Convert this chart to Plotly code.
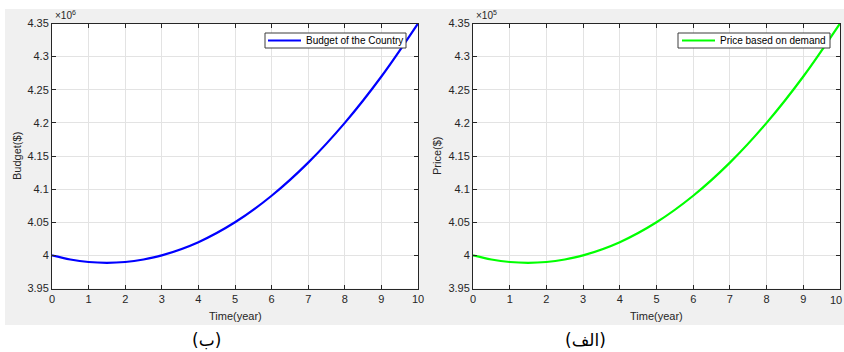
import plotly.graph_objects as go

# ---- data ----
time_year = [0, 0.5, 1, 1.5, 2, 2.5, 3, 4, 5, 6, 7, 8, 9, 10]
budget_x1e6 = [4.000, 3.9938, 3.990, 3.9888, 3.990, 3.9938, 4.000, 4.020, 4.050, 4.090, 4.140, 4.200, 4.270, 4.350]
price_x1e5 = [4.000, 3.9938, 3.990, 3.9888, 3.990, 3.9938, 4.000, 4.020, 4.050, 4.090, 4.140, 4.200, 4.270, 4.350]

x_ticks = list(range(0, 11))
y_ticks = [3.95, 4.0, 4.05, 4.1, 4.15, 4.2, 4.25, 4.3, 4.35]
y_tick_text = ["3.95", "4", "4.05", "4.1", "4.15", "4.2", "4.25", "4.3", "4.35"]

budget_name = "Budget of the Country"
price_name = "Price based on demand"
budget_ylabel = "Budget($)"
price_ylabel = "Price($)"
xlabel = "Time(year)"
budget_exp = "×10<sup>6</sup>"
price_exp = "×10<sup>5</sup>"
caption_left = "(ب)"
caption_right = "(الف)"

BLUE = "#0000ff"
GREEN = "#00ff00"

W, H = 844, 352
def px(x):
    return x / W
def py(y):
    return 1 - y / H

FONT = "Liberation Sans, Arial, sans-serif"
TXT = "#262626"
GRAY = "#f0f0f0"

fig = go.Figure()
fig.add_trace(go.Scatter(x=time_year, y=budget_x1e6, mode="lines", name=budget_name,
                         line=dict(color=BLUE, width=2.2, shape="spline"),
                         xaxis="x", yaxis="y", showlegend=False))
fig.add_trace(go.Scatter(x=time_year, y=price_x1e5, mode="lines", name=price_name,
                         line=dict(color=GREEN, width=2.2, shape="spline"),
                         xaxis="x2", yaxis="y2", showlegend=False))

axis_common = dict(showline=True, linecolor=TXT, linewidth=1, mirror="ticks",
                   ticks="inside", ticklen=4, tickcolor=TXT, showgrid=True,
                   gridcolor="#e3e3e3", gridwidth=1, zeroline=False,
                   automargin=False,
                   tickfont=dict(family=FONT, size=11, color=TXT))

xl = [52, 418]
xr = [473, 840]
ytop, ybot = 23.5, 288.5

fig.update_layout(
    width=W, height=H, margin=dict(l=0, r=0, t=0, b=0, autoexpand=False),
    paper_bgcolor=GRAY, plot_bgcolor="white",
    font=dict(family=FONT, color=TXT),
    xaxis=dict(domain=[px(xl[0]), px(xl[1])], range=[0, 10], tickvals=x_ticks,
               anchor="y", **axis_common),
    yaxis=dict(domain=[py(ybot), py(ytop)], range=[3.95, 4.35], tickvals=y_ticks,
               ticktext=y_tick_text, anchor="x", **axis_common),
    xaxis2=dict(domain=[px(xr[0]), px(xr[1])], range=[0, 10], tickvals=x_ticks,
                anchor="y2", **axis_common),
    yaxis2=dict(domain=[py(ybot), py(ytop)], range=[3.95, 4.35], tickvals=y_ticks,
                ticktext=y_tick_text, anchor="x2", **axis_common),
    showlegend=False,
)

# white strips around the gray figure area
for (x0, x1, y0, y1) in [(0, W, 0, 9), (0, 5, 0, H), (0, W, 325, H)]:
    fig.add_shape(type="rect", xref="paper", yref="paper", x0=px(x0), x1=px(x1),
                  y0=py(y1), y1=py(y0), fillcolor="white", line=dict(width=0),
                  layer="below")

ann = []

# MATLAB-style legend boxes (box, line sample, text)
legends = [
    (265, 406, 33, 48, 268, 301, 304, budget_name, BLUE),
    (678, 830, 33, 48, 682, 715, 718, price_name, GREEN),
]
for (bx0, bx1, by0, by1, lx0, lx1, tx, name, col) in legends:
    fig.add_shape(type="rect", xref="paper", yref="paper", x0=px(bx0), x1=px(bx1),
                  y0=py(by1), y1=py(by0), fillcolor="white",
                  line=dict(color="#3c3c3c", width=1), layer="above")
    ym = (by0 + by1) / 2
    fig.add_shape(type="line", xref="paper", yref="paper", x0=px(lx0), x1=px(lx1),
                  y0=py(ym), y1=py(ym), line=dict(color=col, width=2.2), layer="above")
    ann.append(dict(x=px(tx), y=py(ym), text=name, xanchor="left", yanchor="middle",
                    xref="paper", yref="paper", showarrow=False,
                    font=dict(family=FONT, size=10, color="black")))

# exponents
for (xe, txt) in [(53, budget_exp), (474, price_exp)]:
    ann.append(dict(x=px(xe), y=py(15), text=txt, xanchor="left", yanchor="middle",
                    xref="paper", yref="paper", showarrow=False,
                    font=dict(family=FONT, size=10, color=TXT)))
# axis titles
for xc in [(xl[0] + xl[1]) / 2, (xr[0] + xr[1]) / 2]:
    ann.append(dict(x=px(xc), y=py(316), text=xlabel, xref="paper", yref="paper",
                    xanchor="center", yanchor="middle",
                    showarrow=False, font=dict(family=FONT, size=11, color=TXT)))
ann.append(dict(x=px(17), y=py(156), text=budget_ylabel, textangle=-90, xref="paper",
                yref="paper", xanchor="center", yanchor="middle",
                showarrow=False, font=dict(family=FONT, size=11, color=TXT)))
ann.append(dict(x=px(437), y=py(156), text=price_ylabel, textangle=-90, xref="paper",
                yref="paper", xanchor="center", yanchor="middle",
                showarrow=False, font=dict(family=FONT, size=11, color=TXT)))
# last tick label of the right panel, kept inside the window edge
ann.append(dict(x=1.0, y=py(300), text=str(x_ticks[-1]), xref="paper", yref="paper",
                xanchor="right", yanchor="middle", showarrow=False,
                font=dict(family=FONT, size=11, color=TXT)))
# captions
ann.append(dict(x=px(206), y=py(340), text=caption_left, xref="paper", yref="paper",
                xanchor="center", yanchor="middle",
                showarrow=False, font=dict(family="DejaVu Sans, Noto Sans", size=17, color="black")))
ann.append(dict(x=px(585), y=py(340), text=caption_right, xref="paper", yref="paper",
                xanchor="center", yanchor="middle",
                showarrow=False, font=dict(family="DejaVu Sans, Noto Sans", size=17, color="black")))
fig.update_layout(annotations=ann)

fig.write_html("out.html", config={"displayModeBar": False},
               post_script="document.body.style.margin='0';document.body.style.overflow='hidden';")
